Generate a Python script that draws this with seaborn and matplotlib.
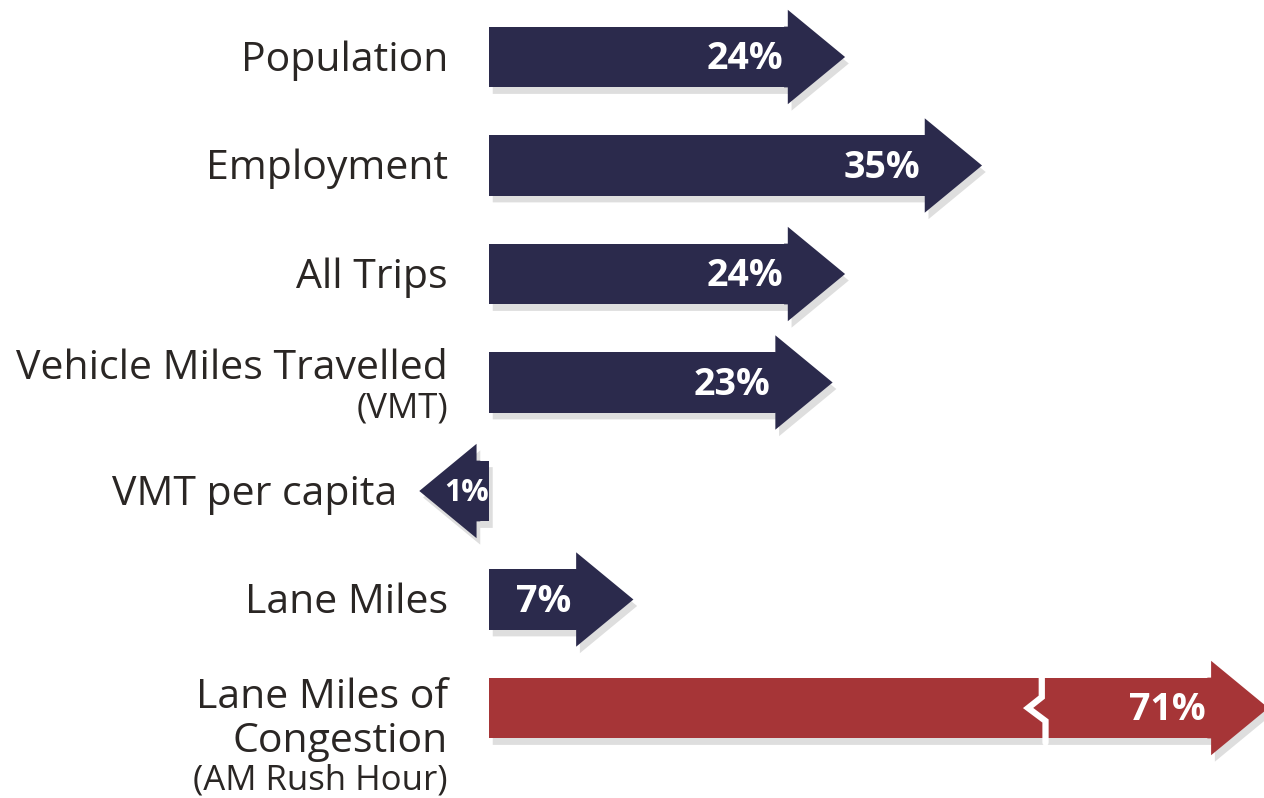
import matplotlib
matplotlib.use("Agg")
import matplotlib.pyplot as plt
import numpy as np
import pandas as pd
import seaborn as sns

# ─── Data ────────────────────────────────────────────────────────────────
categories = [
    "Population",
    "Employment",
    "All Trips",
    "Vehicle Miles Travelled",
    "VMT per capita",
    "Lane Miles",
    "Lane Miles of",
]
label_lines = [
    [],
    [],
    [],
    ["(VMT)"],
    [],
    [],
    ["Congestion", "(AM Rush Hour)"],
]
pct_change = [24, 35, 24, 23, -1, 7, 71]
highlight = [False, False, False, False, False, False, True]

# ─── Style ───────────────────────────────────────────────────────────────
NAVY = "#2b2a4c"
RED = "#a63537"
TEXT = "#2a2624"
PX_PER_UNIT = 12.45         # horizontal pixels per percentage point
ZERO_PX = 489               # x pixel of the 0% baseline
W, H = 1264, 798
ROW_PX = 108.5
FIRST_ROW_PX = 57
BODY_H = 0.56
HEAD_H = 0.87
HEAD_LEN = 4.6
BAR_CAP = 58.0              # long bars are drawn with a break up to here
BREAK_AT = 44.4

sns.set_theme(style="white")
plt.rcParams["font.family"] = ["Open Sans", "DejaVu Sans"]

df = pd.DataFrame({"category": categories, "value": pct_change})
df["drawn"] = df["value"].clip(upper=BAR_CAP)
df["color"] = [RED if h else NAVY for h in highlight]

fig = plt.figure(figsize=(W / 100, H / 100), dpi=100)
ax = fig.add_axes([0, 0, 1, 1])

# faint drop shadow first
for i, v in enumerate(df["drawn"]):
    s = np.sign(v)
    dx, dy = 0.3, 0.06
    ax.fill([0 + dx, v + dx, v + dx, v + s * HEAD_LEN + dx, v + dx, v + dx, 0 + dx],
            [i - BODY_H / 2 + dy, i - BODY_H / 2 + dy, i - HEAD_H / 2 + dy, i + dy,
             i + HEAD_H / 2 + dy, i + BODY_H / 2 + dy, i + BODY_H / 2 + dy],
            color="#000000", alpha=0.13, lw=0, zorder=1)

sns.barplot(data=df, x="drawn", y="category", hue="category",
            palette=dict(zip(df["category"], df["color"])), legend=False,
            orient="h", width=BODY_H, saturation=1, linewidth=0,
            ax=ax, zorder=2)

# arrow heads, overlapping the body a little so no seam shows
for i, (v, c) in enumerate(zip(df["drawn"], df["color"])):
    s = np.sign(v)
    b = v - s * 0.3
    ax.fill([b, v, v, v + s * HEAD_LEN, v, v, b],
            [i - BODY_H / 2, i - BODY_H / 2, i - HEAD_H / 2, i,
             i + HEAD_H / 2, i + BODY_H / 2, i + BODY_H / 2],
            color=c, lw=0, zorder=3)

# break mark on bars longer than the cap
for i, (v, drawn) in enumerate(zip(df["value"], df["drawn"])):
    if v > drawn:
        ax.plot(BREAK_AT + np.array([0, 0, -1.1, 0.3, 0.3]),
                i + np.array([-0.32, -0.1, 0.0, 0.12, 0.32]),
                color="white", lw=4.5, solid_joinstyle="miter", zorder=4)

# value labels inside the arrows
for i, (v, drawn) in enumerate(zip(df["value"], df["drawn"])):
    txt = f"{abs(v)}%"
    if v < 0:
        ax.text(0.0, i + 0.02, txt, ha="right", va="center",
                color="white", fontsize=22, fontweight="bold", zorder=5)
    else:
        ax.text(drawn - 0.4, i + 0.02, txt, ha="right", va="center",
                color="white", fontsize=27, fontweight="bold", zorder=5)

# category labels
label_pad = 3.3
for i, (cat, extra, v) in enumerate(zip(categories, label_lines, pct_change)):
    x = -label_pad if v >= 0 else v - HEAD_LEN - 1.8
    if len(extra) == 1:
        ax.text(x, i - 0.13, cat, ha="right", va="center", color=TEXT, fontsize=29.5)
        ax.text(x, i + 0.24, extra[0], ha="right", va="center", color=TEXT, fontsize=25)
    elif len(extra) == 2:
        ax.text(x, i - 0.09, cat, ha="right", va="center", color=TEXT, fontsize=29.5)
        ax.text(x, i + 0.31, extra[0], ha="right", va="center", color=TEXT, fontsize=29.5)
        ax.text(x, i + 0.67, extra[1], ha="right", va="center", color=TEXT, fontsize=25)
    else:
        ax.text(x, i + 0.03, cat, ha="right", va="center", color=TEXT, fontsize=29.5)

ax.set_xlim(-ZERO_PX / PX_PER_UNIT, (W - ZERO_PX) / PX_PER_UNIT)
top = -FIRST_ROW_PX / ROW_PX
ax.set_ylim(top + H / ROW_PX, top)
ax.axis("off")

fig.savefig("out.png", dpi=100, facecolor="white")
